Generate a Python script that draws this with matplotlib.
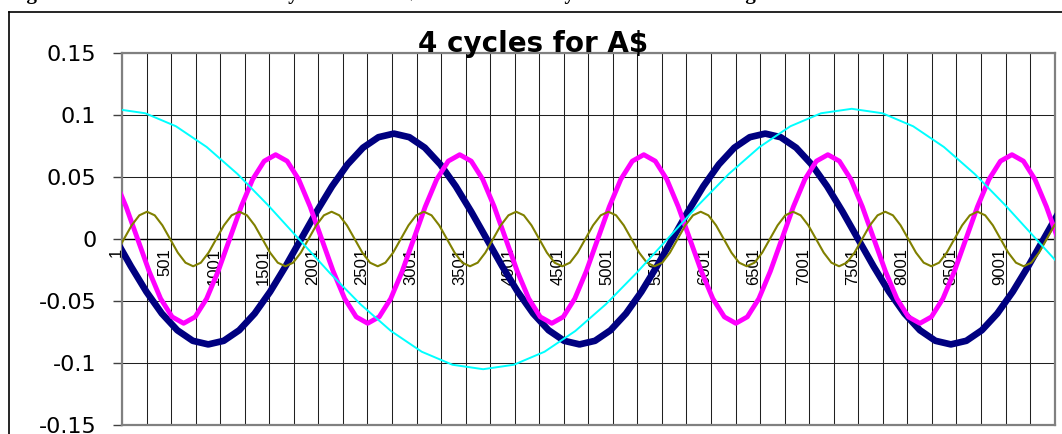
import numpy as np
import matplotlib
matplotlib.use("Agg")
import matplotlib.pyplot as plt
import matplotlib.transforms as mtransforms
from matplotlib.lines import Line2D

W, H, DPI = 1062, 434, 100

# ---------------- data ----------------
title = "4 cycles for A$"
header = "Figure 12: The four dominant cycles in the A$ rate identified by Fourier series using"

n_categories = 9505
label_cats = [1, 501, 1001, 1501, 2001, 2501, 3001, 3501, 4001, 4501,
              5001, 5501, 6001, 6501, 7001, 7501, 8001, 8501, 9001]
grid_cats = list(range(1, 9502, 250))
y_ticks = [-0.15, -0.1, -0.05, 0, 0.05, 0.1, 0.15]
y_tick_labels = ["-0.15", "-0.1", "-0.05", "0", "0.05", "0.1", "0.15"]

# navy cycle: values read every 157.6 categories starting at category -66
navy_start, navy_step = -66, 157.6
navy_y = [0, -0.022, -0.0425, -0.0601, -0.0736, -0.0821, -0.085, -0.0821, -0.0736, -0.0601, -0.0425, -0.022,
          0, 0.022, 0.0425, 0.0601, 0.0736, 0.0821, 0.085, 0.0821, 0.0736, 0.0601, 0.0425, 0.022,
          0, -0.022, -0.0425, -0.0601, -0.0736, -0.0821, -0.085, -0.0821, -0.0736, -0.0601, -0.0425, -0.022,
          0, 0.022, 0.0425, 0.0601, 0.0736, 0.0821, 0.085, 0.0821, 0.0736, 0.0601, 0.0425, 0.022,
          0, -0.022, -0.0425, -0.0601, -0.0736, -0.0821, -0.085, -0.0821, -0.0736, -0.0601, -0.0425, -0.022,
          0, 0.022]

# cyan cycle: values read every 312.9 categories starting at category -75
cyan_start, cyan_step = -75, 312.9
cyan_y = [0.105, 0.1014, 0.0909, 0.0742, 0.0525, 0.0272, 0, -0.0272, -0.0525, -0.0742, -0.0909, -0.1014,
          -0.105, -0.1014, -0.0909, -0.0742, -0.0525, -0.0272, 0, 0.0272, 0.0525, 0.0742, 0.0909, 0.1014,
          0.105, 0.1014, 0.0909, 0.0742, 0.0525, 0.0272, 0, -0.0272]

# magenta cycle: values read every 117.19 categories starting at category -74.4
magenta_start, magenta_step = -74.4, 117.19
magenta_y = [0.0481, 0.026, 0, -0.026, -0.0481, -0.0628, -0.068, -0.0628, -0.0481, -0.026, 0, 0.026, 0.0481, 0.0628, 0.068, 0.0628,
             0.0481, 0.026, 0, -0.026, -0.0481, -0.0628, -0.068, -0.0628, -0.0481, -0.026, 0, 0.026, 0.0481, 0.0628, 0.068, 0.0628,
             0.0481, 0.026, 0, -0.026, -0.0481, -0.0628, -0.068, -0.0628, -0.0481, -0.026, 0, 0.026, 0.0481, 0.0628, 0.068, 0.0628,
             0.0481, 0.026, 0, -0.026, -0.0481, -0.0628, -0.068, -0.0628, -0.0481, -0.026, 0, 0.026, 0.0481, 0.0628, 0.068, 0.0628,
             0.0481, 0.026, 0, -0.026, -0.0481, -0.0628, -0.068, -0.0628, -0.0481, -0.026, 0, 0.026, 0.0481, 0.0628, 0.068, 0.0628,
             0.0481, 0.026, 0]

# olive cycle: values read every 78.33 categories starting at category -57.3
olive_start, olive_step = -57.3, 78.33
olive_y = [-0.011, 0, 0.011, 0.0191, 0.022, 0.0191, 0.011, 0, -0.011, -0.0191, -0.022, -0.0191,
           -0.011, 0, 0.011, 0.0191, 0.022, 0.0191, 0.011, 0, -0.011, -0.0191, -0.022, -0.0191,
           -0.011, 0, 0.011, 0.0191, 0.022, 0.0191, 0.011, 0, -0.011, -0.0191, -0.022, -0.0191,
           -0.011, 0, 0.011, 0.0191, 0.022, 0.0191, 0.011, 0, -0.011, -0.0191, -0.022, -0.0191,
           -0.011, 0, 0.011, 0.0191, 0.022, 0.0191, 0.011, 0, -0.011, -0.0191, -0.022, -0.0191,
           -0.011, 0, 0.011, 0.0191, 0.022, 0.0191, 0.011, 0, -0.011, -0.0191, -0.022, -0.0191,
           -0.011, 0, 0.011, 0.0191, 0.022, 0.0191, 0.011, 0, -0.011, -0.0191, -0.022, -0.0191,
           -0.011, 0, 0.011, 0.0191, 0.022, 0.0191, 0.011, 0, -0.011, -0.0191, -0.022, -0.0191,
           -0.011, 0, 0.011, 0.0191, 0.022, 0.0191, 0.011, 0, -0.011, -0.0191, -0.022, -0.0191,
           -0.011, 0, 0.011, 0.0191, 0.022, 0.0191, 0.011, 0, -0.011, -0.0191, -0.022, -0.0191,
           -0.011, 0, 0.011, 0.0191]

# ---------------- figure ----------------
plt.rcParams['font.family'] = ['Liberation Sans', 'DejaVu Sans']
fig = plt.figure(figsize=(W / DPI, H / DPI), dpi=DPI)
fig.patch.set_facecolor('white')

# outer chart frame (left and top visible)
top_y = (H - 12) / H
fig.add_artist(Line2D([9 / W, 1.01], [top_y, top_y], transform=fig.transFigure, color='black', lw=1.2))
fig.add_artist(Line2D([9 / W, 9 / W], [-0.01, top_y], transform=fig.transFigure, color='black', lw=1.2))

# cut-off caption line above the chart
fig.text(8 / W, 1 + 0.6 / H, header, family=['Liberation Serif', 'DejaVu Serif'], weight='bold',
         fontsize=15, ha='left', va='baseline')

ax = fig.add_axes([122 / W, (H - 425) / H, 933 / W, 372 / H])
ax.set_xlim(1, n_categories)
ax.set_ylim(-0.15, 0.15)

ax.set_xticks(grid_cats)
ax.set_xticklabels([])
ax.tick_params(axis='x', length=0)
ax.set_yticks(y_ticks)
ax.set_yticklabels(y_tick_labels, family=['DejaVu Sans'])
ax.tick_params(axis='y', direction='out', length=6.5, width=1.0, color='#404040', pad=12, labelsize=16)
ax.grid(True, axis='both', color='#202020', lw=0.75)
ax.set_axisbelow(True)
for s in ax.spines.values():
    s.set_color('#808080')
    s.set_linewidth(1.6)
ax.axhline(0, color='black', lw=1.0, zorder=1)

series = [
    (navy_start, navy_step, navy_y, '#000080', 4.8),
    (magenta_start, magenta_step, magenta_y, '#FF00FF', 3.5),
    (olive_start, olive_step, olive_y, '#808000', 1.5),
    (cyan_start, cyan_step, cyan_y, '#00FFFF', 1.4),
]
for start, step, ys, col, lw in series:
    xs = start + step * np.arange(len(ys))
    ax.plot(xs, ys, color=col, lw=lw, solid_joinstyle='round', zorder=3)

lab_tr = mtransforms.offset_copy(ax.transData, fig=fig, x=-6, y=-9, units='dots')
for c in label_cats:
    ax.text(c, 0, str(c), rotation=90, ha='center', va='top', fontsize=12,
            transform=lab_tr, zorder=2)

fig.text(533 / W, (H - 52) / H, title, ha='center', va='baseline', fontsize=20, weight='bold',
         family=['DejaVu Sans'])

fig.savefig('out.png', dpi=DPI)
